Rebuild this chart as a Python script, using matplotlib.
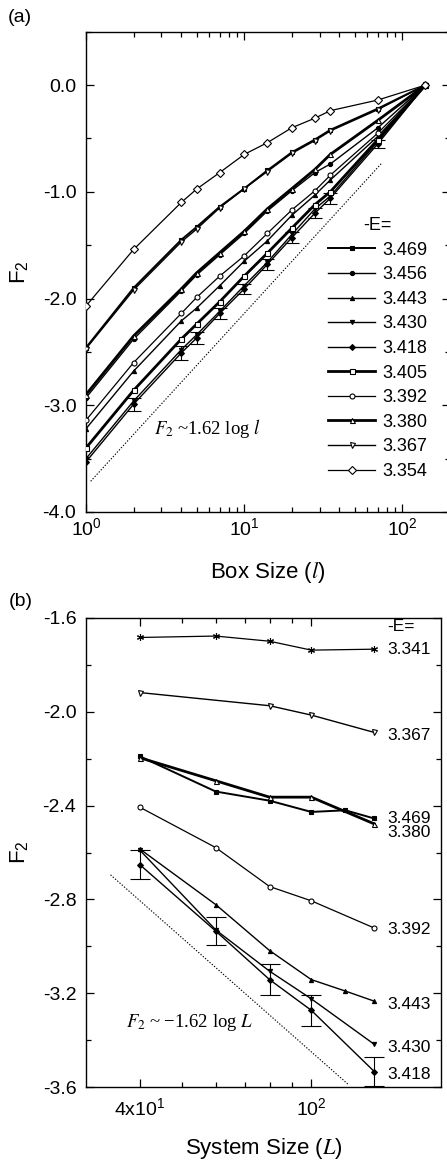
import matplotlib
matplotlib.use("Agg")
import matplotlib.pyplot as plt
import numpy as np
from matplotlib.ticker import FixedLocator, MultipleLocator, NullFormatter

plt.rcParams["font.family"] = ["Liberation Sans", "DejaVu Sans"]
plt.rcParams["mathtext.fontset"] = "stix"
plt.rcParams["mathtext.default"] = "regular"

# ---- panel (a): F2 vs box size l (system size 140) ----
box_sizes = [1, 2, 4, 5, 7, 10, 14, 20, 28, 35, 70, 140]

f2_3469 = [-2.46, -1.90, -1.45, -1.33, -1.14, -0.97, -0.80, -0.63, -0.51, -0.42, -0.22, 0.0]
f2_3456 = [-2.93, -2.38, -1.93, -1.78, -1.59, -1.39, -1.18, -0.99, -0.82, -0.74, -0.40, 0.0]
f2_3443 = [-3.22, -2.68, -2.21, -2.09, -1.88, -1.65, -1.46, -1.22, -1.03, -0.89, -0.48, 0.0]
f2_3430 = [-3.50, -2.96, -2.48, -2.34, -2.12, -1.88, -1.66, -1.40, -1.16, -1.04, -0.53, 0.0]
f2_3418 = [-3.53, -2.99, -2.51, -2.37, -2.14, -1.91, -1.68, -1.43, -1.20, -1.06, -0.55, 0.0]
f2_3405 = [-3.40, -2.86, -2.38, -2.24, -2.03, -1.79, -1.575, -1.34, -1.12, -1.00, -0.51, 0.0]
f2_3392 = [-3.14, -2.60, -2.14, -1.99, -1.79, -1.60, -1.39, -1.17, -0.99, -0.845, -0.45, 0.0]
f2_3380 = [-2.90, -2.35, -1.91, -1.76, -1.57, -1.37, -1.16, -0.97, -0.79, -0.65, -0.33, 0.0]
f2_3367 = [-2.47, -1.92, -1.47, -1.35, -1.15, -0.97, -0.81, -0.64, -0.52, -0.43, -0.23, 0.0]
f2_3354 = [-2.07, -1.54, -1.10, -0.975, -0.82, -0.65, -0.54, -0.40, -0.31, -0.24, -0.14, 0.0]
err_3418_a = [0.0, 0.06, 0.065, 0.055, 0.05, 0.05, 0.05, 0.05, 0.05, 0.05, 0.04, 0.0]

energies_a = ["3.469", "3.456", "3.443", "3.430", "3.418",
              "3.405", "3.392", "3.380", "3.367", "3.354"]
series_a = [f2_3469, f2_3456, f2_3443, f2_3430, f2_3418,
            f2_3405, f2_3392, f2_3380, f2_3367, f2_3354]

# ---- panel (b): F2 vs system size L ----
L_3341 = [40, 60, 80, 100, 140]
F_3341 = [-1.683, -1.677, -1.699, -1.737, -1.733]
L_3367 = [40, 80, 100, 140]
F_3367 = [-1.918, -1.974, -2.014, -2.088]
L_3469 = [40, 60, 80, 100, 120, 140]
F_3469 = [-2.19, -2.34, -2.379, -2.427, -2.42, -2.455]
L_3380 = [40, 60, 80, 100, 140]
F_3380 = [-2.196, -2.294, -2.364, -2.364, -2.478]
L_3392 = [40, 60, 80, 100, 140]
F_3392 = [-2.407, -2.579, -2.745, -2.806, -2.922]
L_3443 = [40, 60, 80, 100, 120, 140]
F_3443 = [-2.585, -2.822, -3.018, -3.142, -3.191, -3.234]
L_3430 = [40, 60, 80, 100, 140]
F_3430 = [-2.59, -2.93, -3.106, -3.224, -3.418]
L_3418 = [40, 60, 80, 100, 140]
F_3418 = [-2.652, -2.935, -3.142, -3.273, -3.534]
err_3418_b = [0.062, 0.06, 0.065, 0.066, 0.06]

labels_b = ["3.341", "3.367", "3.469", "3.380", "3.392", "3.443", "3.430", "3.418"]
label_y_b = [-1.734, -2.100, -2.453, -2.513, -2.929, -3.248, -3.431, -3.546]

# fitted guide lines F2 = slope*log10(x) + offset
guide_a_x = [1.07, 74.0]
guide_a_slope, guide_a_offset = 1.62, -3.76
guide_b_x = [34.2, 122.0]
guide_b_slope, guide_b_offset = -1.62, -0.21

# marker style per energy: (marker, filled, line width)
style = {
    "3.469": ("s", True, 1.4),
    "3.456": ("o", True, 1.0),
    "3.443": ("^", True, 1.0),
    "3.430": ("v", True, 1.0),
    "3.418": ("D", True, 1.0),
    "3.405": ("s", False, 2.0),
    "3.392": ("o", False, 0.9),
    "3.380": ("^", False, 2.0),
    "3.367": ("v", False, 1.0),
    "3.354": ("D", False, 0.9),
    "3.341": ((6, 2, 0), True, 0.9),
}


def draw(ax, x, y, key, label=None):
    marker, filled, lw = style[key]
    ms = 3.0 if filled else 3.6
    if key == "3.341":
        ms = 5
    ax.plot(x, y, color="black", lw=lw, marker=marker, ms=ms,
            mfc="black" if filled else "white", mec="black", mew=0.8,
            label=label, zorder=3)


def style_axes(ax):
    ax.tick_params(which="both", direction="in", top=True, right=True, width=0.9)
    ax.tick_params(which="major", length=6)
    ax.tick_params(which="minor", length=3.5)
    ax.tick_params(axis="y", labelsize=14, pad=7)
    ax.tick_params(axis="x", labelsize=14)
    for s in ax.spines.values():
        s.set_linewidth(1.0)


fig = plt.figure(figsize=(4.47, 11.63), dpi=100)

# ---------------- (a) ----------------
ax1 = fig.add_axes([86 / 447, 1 - 512 / 1163, 364 / 447, 480.3 / 1163])
for key, f2 in zip(energies_a, series_a):
    draw(ax1, box_sizes, f2, key, label=key)
ax1.errorbar(box_sizes[1:-1], f2_3418[1:-1], yerr=err_3418_a[1:-1], fmt="none",
             ecolor="black", elinewidth=0.8, capsize=5, capthick=0.8, zorder=2)
gx = np.array(guide_a_x)
ax1.plot(gx, guide_a_slope * np.log10(gx) + guide_a_offset, color="black",
         lw=0.8, ls=(0, (1.2, 1.5)))
ax1.text(2.7, -3.22, r"$\mathit{F}_{\mathrm{2}}$ ~1.62 log $\mathit{l}$",
         family="Liberation Serif", fontsize=13.5, ha="left", va="center")

ax1.set_xscale("log")
ax1.set_xlim(1, 200)
ax1.set_ylim(-4.0, 0.5)
ax1.yaxis.set_major_locator(FixedLocator([0.0, -1.0, -2.0, -3.0, -4.0]))
ax1.yaxis.set_minor_locator(MultipleLocator(0.5))
ax1.set_yticklabels(["0.0", "-1.0", "-2.0", "-3.0", "-4.0"])
style_axes(ax1)
ax1.tick_params(axis="x", pad=4)
ax1.set_xlabel(r"Box Size ($\mathit{l}$)", fontsize=16)
ax1.xaxis.set_label_coords(0.5, -0.1)
ax1.set_ylabel("F$_2$", fontsize=16)
ax1.yaxis.set_label_coords(-0.15, 0.5)

leg = ax1.legend(loc="upper left", bbox_to_anchor=(0.665, 0.614), frameon=False,
                 fontsize=13, title="-E=", title_fontsize=13, handlelength=2.6,
                 handletextpad=0.4, labelspacing=0.42, borderpad=0,
                 borderaxespad=0, numpoints=1)

# ---------------- (b) ----------------
ax2 = fig.add_axes([86 / 447, 1 - 1087 / 1163, 355 / 447, 469 / 1163])
draw(ax2, L_3341, F_3341, "3.341")
draw(ax2, L_3367, F_3367, "3.367")
draw(ax2, L_3469, F_3469, "3.469")
draw(ax2, L_3380, F_3380, "3.380")
draw(ax2, L_3392, F_3392, "3.392")
draw(ax2, L_3443, F_3443, "3.443")
draw(ax2, L_3430, F_3430, "3.430")
draw(ax2, L_3418, F_3418, "3.418")
ax2.errorbar(L_3418, F_3418, yerr=err_3418_b, fmt="none", ecolor="black",
             elinewidth=0.8, capsize=7, capthick=0.8, zorder=2)
gx = np.array(guide_b_x)
ax2.plot(gx, guide_b_slope * np.log10(gx) + guide_b_offset, color="black",
         lw=0.8, ls=(0, (1.2, 1.5)))
ax2.text(37.2, -3.325, r"$\mathit{F}_{\mathrm{2}}$ ~ $-$1.62 log $\mathit{L}$",
         family="Liberation Serif", fontsize=13.5, ha="left", va="center")

for lab, y in zip(labels_b, label_y_b):
    ax2.text(150, y, lab, fontsize=12.5, ha="left", va="center")
ax2.text(150, -1.638, "-E=", fontsize=12.5, ha="left", va="center")

ax2.set_xscale("log")
ax2.set_xlim(30, 200)
ax2.set_ylim(-3.6, -1.6)
ax2.xaxis.set_major_locator(FixedLocator([40, 100]))
ax2.xaxis.set_minor_locator(FixedLocator([50, 60, 70, 80, 90]))
ax2.xaxis.set_minor_formatter(NullFormatter())
ax2.set_xticklabels(["4x10$^1$", "10$^2$"])
ax2.yaxis.set_major_locator(FixedLocator([-1.6, -2.0, -2.4, -2.8, -3.2, -3.6]))
ax2.yaxis.set_minor_locator(MultipleLocator(0.2))
ax2.set_yticklabels(["-1.6", "-2.0", "-2.4", "-2.8", "-3.2", "-3.6"])
style_axes(ax2)
ax2.tick_params(axis="x", pad=7)
ax2.set_xlabel(r"System Size ($\mathit{L}$)", fontsize=16)
ax2.xaxis.set_label_coords(0.5, -0.105)
ax2.set_ylabel("F$_2$", fontsize=16)
ax2.yaxis.set_label_coords(-0.155, 0.5)

fig.text(20 / 447, 1 - 17 / 1163, "(a)", fontsize=14, ha="center", va="center")
fig.text(21 / 447, 1 - 602 / 1163, "(b)", fontsize=14, ha="center", va="center")

fig.savefig("out.png", dpi=100)
